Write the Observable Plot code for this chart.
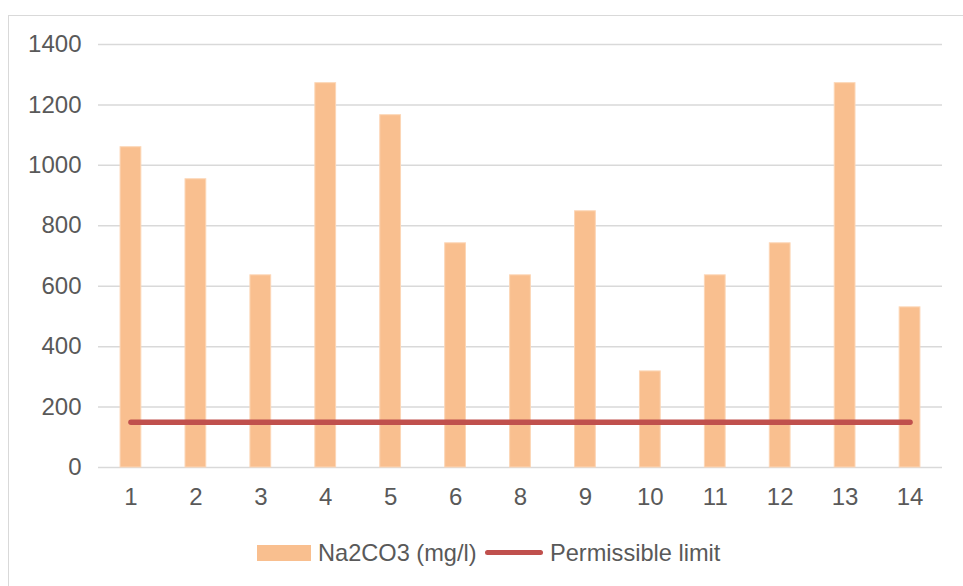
<!DOCTYPE html>
<html>
<head>
<meta charset="utf-8">
<script src="https://cdn.jsdelivr.net/npm/d3@7"></script>
<script src="https://cdn.jsdelivr.net/npm/@observablehq/plot@0.6"></script>
<style>
  html, body { margin: 0; padding: 0; background: #fff; overflow: hidden; }
  #wrap { position: relative; width: 963px; height: 586px; font-family: "Liberation Sans", Arial, sans-serif; color: #595959; }
  #frame { position: absolute; left: 8px; top: 15px; width: 1000px; height: 620px; border: 1.5px solid #d9d9d9; box-sizing: border-box; }
  #chart { position: absolute; left: 0; top: 0; }
  .lg { position: absolute; }
  .lgtext { font-size: 23.6px; line-height: 24px; white-space: nowrap; }
</style>
</head>
<body>
<div id="wrap">
  <div id="frame"></div>
  <div id="chart"></div>
  <div class="lg" id="swBar" style="left:257px; top:545px; width:54px; height:16px;"></div>
  <div class="lg lgtext" id="lgBar" style="left:318px; top:541px;"></div>
  <div class="lg" id="swLine" style="left:485px; top:549.5px; width:58px; height:5.5px; border-radius:3px;"></div>
  <div class="lg lgtext" id="lgLine" style="left:550px; top:541px;"></div>
</div>
<script>
// Data
const samples = ["1", "2", "3", "4", "5", "6", "8", "9", "10", "11", "12", "13", "14"];
const na2co3 = [1060, 954, 636, 1272, 1166, 742, 636, 848, 318, 636, 742, 1272, 530];
const permissibleLimit = [150, 150, 150, 150, 150, 150, 150, 150, 150, 150, 150, 150, 150];
const yTicks = [0, 200, 400, 600, 800, 1000, 1200, 1400];
const seriesNames = ["Na2CO3 (mg/l)", "Permissible limit"];
const colors = ["#F9BF8F", "#C0504D"];

const rows = samples.map((s, i) => ({sample: s, value: na2co3[i], limit: permissibleLimit[i]}));

const chart = Plot.plot({
  width: 963,
  height: 520,
  marginLeft: 98,
  marginRight: 21,
  marginTop: 44,
  marginBottom: 53,
  style: {fontFamily: "'Liberation Sans', Arial, sans-serif", fontSize: "24px", color: "#595959", background: "transparent", overflow: "visible"},
  x: {domain: samples, paddingInner: 0.68, paddingOuter: 0.34, round: false, label: null},
  y: {domain: [0, 1400], label: null},
  marks: [
    Plot.gridY(yTicks, {stroke: "#d9d9d9", strokeOpacity: 1, strokeWidth: 1.5}),
    Plot.axisY(yTicks, {tickSize: 0, tickPadding: 17, label: null, tickFormat: d => String(d)}),
    Plot.axisX({tickSize: 0, tickPadding: 20, label: null}),
    Plot.barY(rows, {x: "sample", y: "value", fill: colors[0], stroke: "#fcd6b6", strokeWidth: 1}),
    Plot.line(rows, {x: "sample", y: "limit", stroke: colors[1], strokeWidth: 5.5, strokeLinecap: "round"})
  ]
});
document.getElementById("chart").appendChild(chart);

document.getElementById("swBar").style.background = colors[0];
document.getElementById("lgBar").textContent = seriesNames[0];
document.getElementById("swLine").style.background = colors[1];
document.getElementById("lgLine").textContent = seriesNames[1];
</script>
</body>
</html>
